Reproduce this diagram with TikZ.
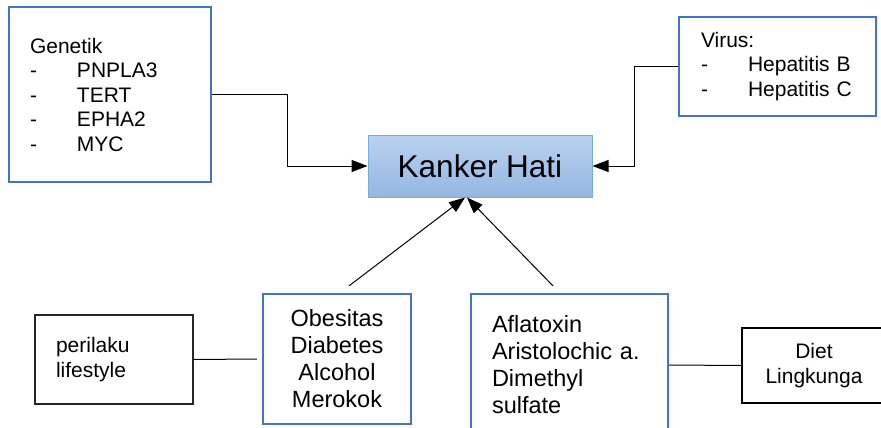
\documentclass[tikz,border=0pt]{standalone}
\usepackage{fontspec}
\setmainfont{Liberation Sans}
\usetikzlibrary{arrows.meta, calc}

\definecolor{boxblue}{HTML}{4472C4}
\definecolor{hatitop}{HTML}{B9D1EF}
\definecolor{hatibot}{HTML}{94B7E2}
\definecolor{hatiline}{HTML}{7AAADF}

\newcommand{\dashitem}[1]{\makebox[47pt][l]{-}#1}

\begin{document}
\begin{tikzpicture}[x=1pt, y=-1pt,
    bluebox/.style={draw=boxblue, line width=2.2pt, inner ysep=0pt},
    blackbox/.style={draw=black!85, line width=1.2pt, inner ysep=0pt},
    small/.style={font=\fontsize{21}{24.5}\selectfont},
    big/.style={font=\fontsize{23.5}{27}\selectfont},
    arr/.style={-{Triangle[length=16pt, width=12pt]}, line width=1pt},
    link/.style={line width=1pt}]

      % Page size and clipping of the cut boxes
      \useasboundingbox (0,0) rectangle (881,428);
      \clip (0,0) rectangle (881,428);

      % Central box
      \node[draw=hatiline, line width=1pt, top color=hatitop, bottom color=hatibot,
            minimum width=224pt, minimum height=62pt,
            font=\fontsize{31.5}{36}\selectfont] (kanker) at (480,166) {Kanker Hati};

      % Genetic factors (top left)
      \node[bluebox, small, minimum height=175pt, inner xsep=21pt, text width=160pt, align=left]
        (genetik) at (110,94.5)
        {Genetik\\ \dashitem{PNPLA3}\\ \dashitem{TERT}\\ \dashitem{EPHA2}\\ \dashitem{MYC}};

      % Viruses (top right)
      \node[bluebox, small, minimum height=99pt, inner xsep=22pt, text width=153pt, align=left]
        (virus) at (777.5,66.5)
        {Virus:\\ \dashitem{Hepatitis B}\\ \dashitem{Hepatitis C}};

      % Lifestyle factors (bottom left)
      \node[bluebox, big, minimum width=148pt, minimum height=130pt, align=center]
        (obesitas) at (337,359) {Obesitas\\ Diabetes\\ Alcohol\\ Merokok};
      \node[blackbox, small, minimum height=89pt, inner xsep=21pt, text width=116pt, align=left]
        (perilaku) at (114,359.5) {perilaku\\ lifestyle};

      % Chemical factors (bottom right)
      \node[bluebox, big, minimum height=142pt, inner xsep=21pt, text width=155pt, align=left]
        (aflatoxin) at (569.5,365) {Aflatoxin\\ Aristolochic a.\\ Dimethyl\\ sulfate};
      \node[draw=black, line width=2pt, small, minimum width=144pt, minimum height=75pt, align=center]
        (diet) at (814,365.5) {Diet\\ Lingkunga};

      % Arrows into the central box
      \draw[arr] (genetik.east) -- ++(75,0) |- (kanker.west);
      \draw[arr] (virus.west) -- ++(-43,0) |- (kanker.east);
      \draw[arr] ([xshift=12pt, yshift=7pt]obesitas.north) -- ([xshift=-15pt]kanker.south);
      \draw[arr] ([xshift=-16.5pt, yshift=7pt]aflatoxin.north) -- ([xshift=-13pt]kanker.south);

      % Plain links
      \draw[link] (perilaku.east) -- ([xshift=-5pt]obesitas.west);
      \draw[link] (aflatoxin.east) -- (diet.west);
    \end{tikzpicture}
\end{document}
